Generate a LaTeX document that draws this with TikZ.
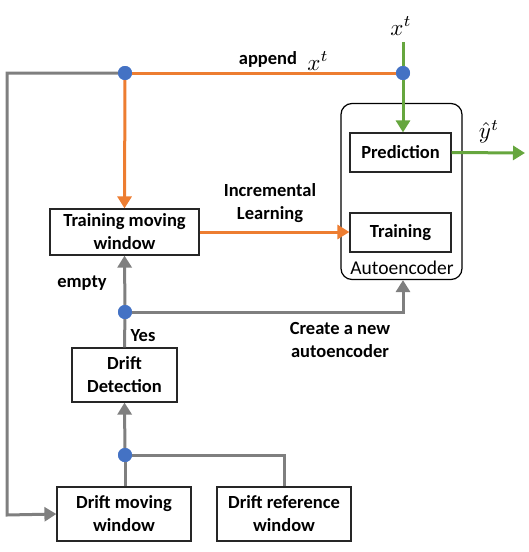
\documentclass[tikz,border=0pt]{standalone}
\usepackage{fontspec}
\setmainfont{Carlito}
\usetikzlibrary{arrows.meta,positioning,calc}
\definecolor{orng}{RGB}{237,125,49}
\definecolor{grn}{RGB}{102,166,62}
\definecolor{gry}{RGB}{127,127,127}
\definecolor{dotblue}{RGB}{68,114,196}
\newcommand{\mybigmath}[1]{\scalebox{2.3}{$#1$}}
\begin{document}
\begin{tikzpicture}[x=1pt,y=-1pt,
  box/.style={draw=black!85, line width=1.2pt, fill=white, align=center, font=\fontsize{18.5}{23}\selectfont\bfseries, inner sep=0pt},
  lbl/.style={align=center, font=\fontsize{18.5}{23}\selectfont\bfseries, inner sep=0pt},
  mth/.style={inner sep=0pt},
  tip/.style={-{Triangle[width=14pt,length=12pt]}},
  gline/.style={draw=gry, line width=3pt},
  oline/.style={draw=orng, line width=3pt},
  grline/.style={draw=grn, line width=3pt},
  jdot/.style={circle, fill=dotblue, minimum size=14pt, inner sep=0pt}]
\useasboundingbox (0,0) rectangle (528,552);
% autoencoder container
\node[draw=black, line width=1.2pt, rounded corners=11pt, minimum width=121pt, minimum height=176pt, inner sep=0pt] (ae) at (401.5,191.5) {};
\node[font=\fontsize{19.5}{21}\selectfont, inner sep=0pt] (aelbl) at (402,268) {Autoencoder};
\node[box, minimum width=101pt, minimum height=39pt] (pred) at (400.5,152.5) {Prediction};
\node[box, minimum width=101pt, minimum height=39pt] (train) at (400.5,232.5) {Training};
\node[box, minimum width=149pt, minimum height=46pt] (tmw) at (124.5,232) {Training moving\\window};
\node[box, minimum width=105pt, minimum height=54pt] (dd) at (124.5,375) {Drift\\Detection};
\node[box, minimum width=134pt, minimum height=54pt] (dmw) at (124,514) {Drift moving\\window};
\node[box, minimum width=134pt, minimum height=54pt] (drw) at (284,514) {Drift reference\\window};
% junction dots
\node[jdot] (j1) at (125,73) {};
\node[jdot] (j2) at (403,73) {};
\node[jdot] (j3) at (125,312) {};
\node[jdot] (j4) at (125,455) {};
% inputs/outputs
\coordinate (xin) at (403,42);
\coordinate (yout) at (525,153);
\node[mth] (xl) at (401,26) {\mybigmath{x^t}};
\node[mth] (yl) at (489,132) {\mybigmath{\hat{y}^t}};
% labels
\node[lbl] (app) at (268,59) {append};
\node[mth, right=10pt of app.east, yshift=-2pt] (appx) {\mybigmath{x^t}};
\node[lbl] (inc) at (270,203) {Incremental\\Learning};
\node[lbl] (emp) at (82,283) {empty};
\node[lbl] (yes) at (143,336) {Yes};
\node[lbl] (cre) at (340,340) {Create a new\\autoencoder};
% green connectors
\draw[grline] (xin) -- (j2);
\draw[grline, tip] (j2) -- (pred.north -| j2);
\draw[grline, tip] (pred.east) -- (yout);
% orange connectors
\draw[oline] (j1) -- (j2);
\draw[oline, tip] (j1) -- (tmw.north);
\draw[oline, tip] (tmw.east) -- (train.west |- tmw.east);
% gray connectors
\draw[gline, tip] (j1) -| (7,515) -- (dmw.west);
\draw[gline, tip] (j3) -- (tmw.south);
\draw[gline, tip] (j3) -| (ae.south -| j2);
\draw[gline] (dd.north) -- (j3);
\draw[gline, tip] (j4) -- (dd.south);
\draw[gline] (dmw.north -| j4) -- (j4);
\draw[gline] (j4) -| (drw.north);
% redraw dots on top
\node[jdot] at (j1) {};
\node[jdot] at (j2) {};
\node[jdot] at (j3) {};
\node[jdot] at (j4) {};
\end{tikzpicture}
\end{document}
